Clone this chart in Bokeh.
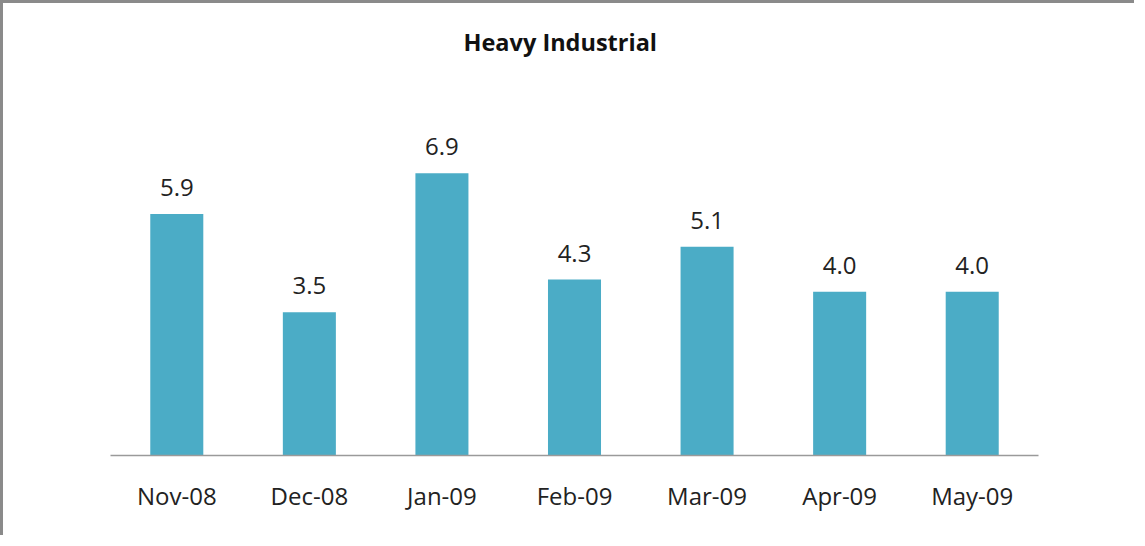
from bokeh.plotting import figure
from bokeh.models import ColumnDataSource, LabelSet, Range1d
from bokeh.core.properties import value
from bokeh.embed import file_html
from bokeh.resources import INLINE

months = ["Nov-08", "Dec-08", "Jan-09", "Feb-09", "Mar-09", "Apr-09", "May-09"]
values = [5.9, 3.5, 6.9, 4.3, 5.1, 4.0, 4.0]
value_labels = ["5.9", "3.5", "6.9", "4.3", "5.1", "4.0", "4.0"]
title_text = "Heavy Industrial"

src = ColumnDataSource(dict(month=months, value=values, label=value_labels))

p = figure(x_range=months, y_range=Range1d(0, 9.36), width=1134, height=535,
           output_backend="svg", toolbar_location=None,
           min_border_left=107, min_border_right=99, min_border_top=69, min_border_bottom=83,
           title=title_text)
p.title.text_font = "Open Sans"
p.title.text_font_size = "23.5px"
p.title.text_font_style = "bold"
p.title.align = "left"
p.title.offset = 353
p.title.standoff = 30
p.title.text_color = "#111111"

p.vbar(x="month", top="value", width=0.4, source=src, color="#4BACC6", line_color=None)

labels = LabelSet(x="month", y="value", text="label", source=src, y_offset=18,
                  text_align="center", text_baseline="bottom",
                  text_font=value("Open Sans"), text_font_size="24px", text_color="#222222")
p.add_layout(labels)

p.yaxis.visible = False
p.xgrid.visible = False
p.ygrid.visible = False
p.outline_line_color = None
p.xaxis.axis_line_color = "#9a9a9a"
p.xaxis.axis_line_width = 1.5
p.xaxis.major_tick_line_color = None
p.xaxis.minor_tick_line_color = None
p.xaxis.major_label_standoff = 17
p.xaxis.major_label_text_font = "Open Sans"
p.xaxis.major_label_text_font_size = "24px"
p.xaxis.major_label_text_color = "#222222"
p.styles = {"border-left": "3px solid #8a8a8a", "border-top": "3px solid #8a8a8a"}

open("out.html", "w").write(file_html(p, INLINE))
